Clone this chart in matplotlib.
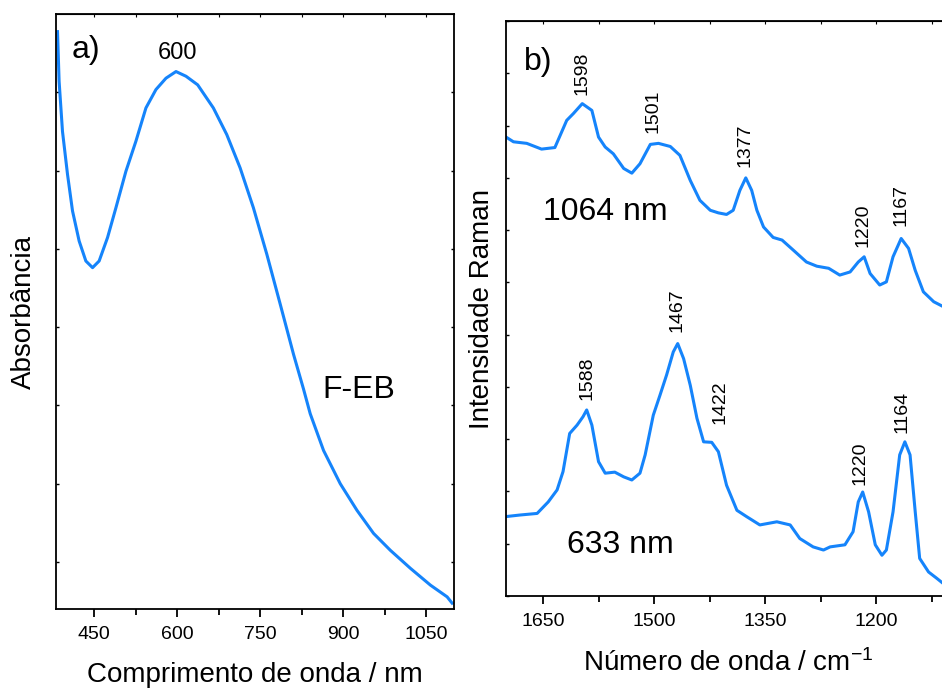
import matplotlib
matplotlib.use('Agg')
import matplotlib.pyplot as plt
from matplotlib.ticker import MultipleLocator

plt.rcParams['font.family'] = ['Liberation Sans', 'DejaVu Sans']
plt.rcParams['mathtext.fontset'] = 'custom'
plt.rcParams['mathtext.rm'] = 'Liberation Sans'
plt.rcParams['mathtext.it'] = 'Liberation Sans'

BLUE = '#1584fb'

# a) UV-vis absorption spectrum (F-EB)
uv_wavelength = [383.8, 386.7, 392.8, 401.9, 410.9, 422.9, 435.0, 447.1, 459.0,
                 474.2, 489.3, 507.3, 525.4, 543.5, 561.6, 579.7, 597.8, 615.9,
                 637.0, 665.3, 689.5, 713.6, 737.6, 761.9, 786.0, 810.0, 828.1,
                 840.2, 864.3, 894.5, 924.7, 954.7, 984.9, 1021.1, 1057.3,
                 1087.5, 1096.5]
uv_absorbance = [1.655, 1.528, 1.400, 1.290, 1.197, 1.120, 1.069, 1.052, 1.069,
                 1.129, 1.205, 1.298, 1.375, 1.460, 1.507, 1.536, 1.553, 1.541,
                 1.519, 1.460, 1.392, 1.307, 1.205, 1.086, 0.959, 0.831, 0.742,
                 0.679, 0.585, 0.500, 0.432, 0.373, 0.330, 0.284, 0.241,
                 0.211, 0.195]

# b) Raman spectra, 1064 nm excitation
raman_1064_wn = [1700, 1690, 1672, 1652, 1634, 1618, 1609, 1597, 1584, 1575, 1566,
                 1555, 1541, 1530, 1519, 1505, 1494, 1478, 1465, 1451, 1438, 1424,
                 1413, 1402, 1393, 1384, 1376, 1368, 1361, 1352, 1339, 1327, 1312,
                 1294, 1280, 1264, 1249, 1235, 1224, 1216, 1208, 1195, 1186, 1177,
                 1166, 1156, 1147, 1136, 1122, 1111]
raman_1064_int = [8.78, 8.69, 8.66, 8.55, 8.58, 9.10, 9.23, 9.42, 9.29, 8.78, 8.59,
                  8.46, 8.18, 8.09, 8.27, 8.64, 8.66, 8.60, 8.43, 7.95, 7.57, 7.38,
                  7.33, 7.30, 7.38, 7.76, 8.00, 7.76, 7.38, 7.06, 6.86, 6.81, 6.62,
                  6.39, 6.31, 6.27, 6.14, 6.20, 6.39, 6.49, 6.17, 5.95, 6.01, 6.49,
                  6.84, 6.65, 6.23, 5.82, 5.63, 5.55]

# b) Raman spectra, 633 nm excitation
raman_633_wn = [1700, 1681, 1658, 1643, 1631, 1623, 1614, 1604, 1596, 1591, 1584,
                1575, 1566, 1553, 1541, 1530, 1519, 1512, 1501, 1492, 1483, 1474,
                1468, 1460, 1451, 1442, 1433, 1422, 1413, 1402, 1388, 1375, 1357,
                1334, 1316, 1303, 1285, 1271, 1262, 1242, 1231, 1224, 1218, 1210,
                1201, 1192, 1186, 1177, 1168, 1161, 1154, 1147, 1141, 1129, 1118,
                1111]
raman_633_int = [1.52, 1.55, 1.58, 1.80, 2.03, 2.38, 3.11, 3.27, 3.43, 3.56, 3.27,
                 2.57, 2.35, 2.37, 2.28, 2.22, 2.35, 2.70, 3.46, 3.84, 4.23, 4.67,
                 4.83, 4.54, 4.03, 3.40, 2.95, 2.94, 2.76, 2.12, 1.64, 1.52, 1.36,
                 1.42, 1.36, 1.10, 0.94, 0.88, 0.94, 0.98, 1.23, 1.80, 1.99, 1.61,
                 0.98, 0.78, 0.88, 1.61, 2.70, 2.95, 2.70, 1.61, 0.72, 0.46, 0.34,
                 0.26]

# peak labels: (text, x, y) in data coordinates of panel b
peak_labels_1064 = [('1598', 1598, 10.0), ('1501', 1501, 9.28), ('1377', 1377, 8.62),
                    ('1220', 1217, 7.09), ('1167', 1166, 7.48)]
peak_labels_633 = [('1467', 1469, 5.46), ('1588', 1590, 4.17), ('1422', 1411, 3.71),
                   ('1220', 1221, 2.54), ('1164', 1165, 3.52)]


def style_axes(ax):
    for s in ax.spines.values():
        s.set_linewidth(1.3)
    ax.tick_params(axis='x', which='both', direction='out', top=False,
                   labelsize=14, width=1.3, pad=6)
    ax.tick_params(axis='x', which='major', length=6)
    ax.tick_params(axis='x', which='minor', length=4)
    ax.tick_params(axis='y', which='both', direction='in', left=True, right=True,
                   labelleft=False, length=2, width=1)
    sec = ax.secondary_xaxis('top')
    sec.xaxis.set_major_locator(MultipleLocator(75))
    sec.tick_params(direction='in', length=2, labeltop=False)


fig = plt.figure(figsize=(9.42, 6.9), dpi=100)

# panel a
ax1 = fig.add_axes([0.0594, 0.1174, 0.4226, 0.8623])
ax1.plot(uv_wavelength, uv_absorbance, color=BLUE, linewidth=2.2)
ax1.set_xlim(381, 1100)
ax1.set_ylim(0.18, 1.70)
ax1.xaxis.set_major_locator(MultipleLocator(150))
ax1.xaxis.set_minor_locator(MultipleLocator(75))
ax1.set_yticks([0.3, 0.5, 0.7, 0.9, 1.1, 1.3, 1.5])
style_axes(ax1)
ax1.set_xlabel('Comprimento de onda / nm', fontsize=20, labelpad=14)
ax1.set_ylabel('Absorbância', fontsize=20, labelpad=14)
ax1.text(0.04, 0.965, 'a)', transform=ax1.transAxes, fontsize=23, va='top', ha='left')
ax1.text(600, 1.60, '600', fontsize=17, ha='center', va='center')
ax1.text(928, 0.74, 'F-EB', fontsize=23, ha='center', va='center')

# panel b
ax2 = fig.add_axes([0.5372, 0.1362, 0.4713, 0.8333])
ax2.plot(raman_1064_wn, raman_1064_int, color=BLUE, linewidth=2.2)
ax2.plot(raman_633_wn, raman_633_int, color=BLUE, linewidth=2.2)
ax2.set_xlim(1700, 1100)
ax2.set_ylim(0, 11)
ax2.xaxis.set_major_locator(MultipleLocator(150))
ax2.xaxis.set_minor_locator(MultipleLocator(75))
ax2.yaxis.set_major_locator(MultipleLocator(1))
style_axes(ax2)
ax2.set_xlabel('Número de onda / cm$^{-1}$', fontsize=20, labelpad=14)
ax2.set_ylabel('Intensidade Raman', fontsize=20, labelpad=8)
ax2.text(0.04, 0.955, 'b)', transform=ax2.transAxes, fontsize=23, va='top', ha='left')
ax2.text(1566, 7.34, '1064 nm', fontsize=23, ha='center', va='center')
ax2.text(1546, 0.98, '633 nm', fontsize=23, ha='center', va='center')
for txt, x, y in peak_labels_1064 + peak_labels_633:
    ax2.text(x, y, txt, fontsize=14, rotation=90, ha='center', va='center')

fig.savefig('out.png', dpi=100)
